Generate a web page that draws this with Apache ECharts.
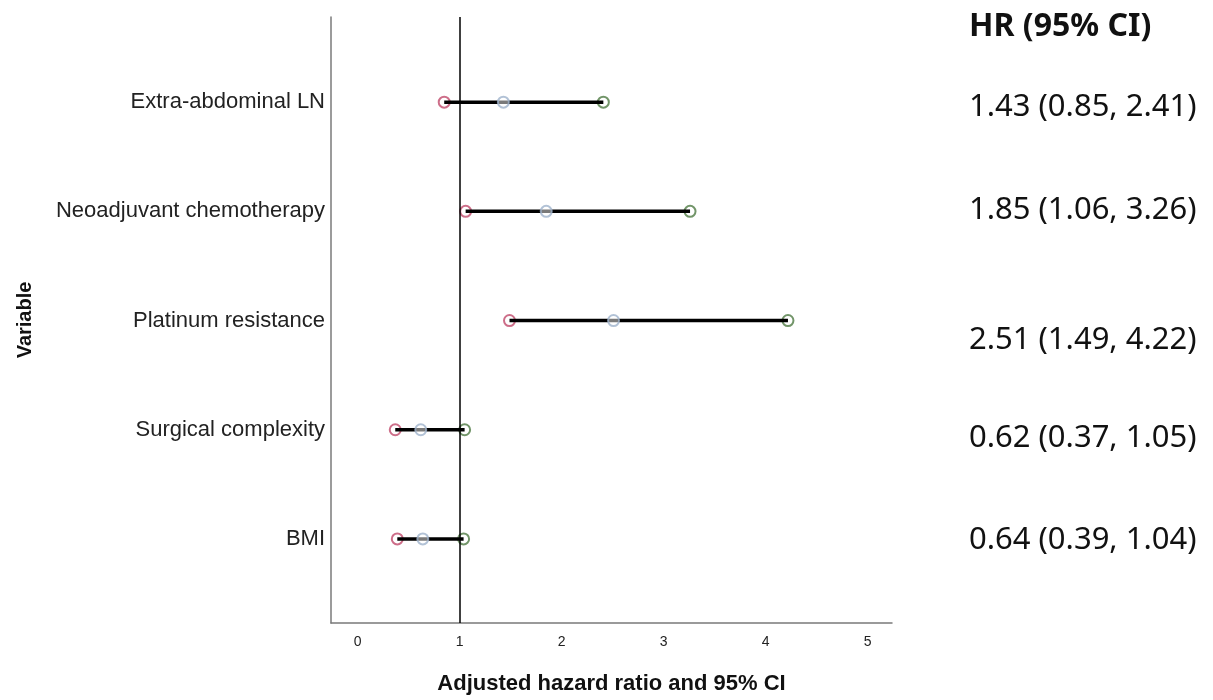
<!DOCTYPE html>
<html>
<head>
<meta charset="utf-8">
<script src="https://cdn.jsdelivr.net/npm/echarts@6/dist/echarts.min.js"></script>
<style>
html,body{margin:0;padding:0;background:#fff;}
#chart{width:1213px;height:700px;}
</style>
</head>
<body>
<div id="chart"></div>
<script>
// Data (top to bottom as displayed)
var categories = ['Extra-abdominal LN', 'Neoadjuvant chemotherapy', 'Platinum resistance', 'Surgical complexity', 'BMI'];
var hrValues = [1.43, 1.85, 2.51, 0.62, 0.64];
var lowerValues = [0.85, 1.06, 1.49, 0.37, 0.39];
var upperValues = [2.41, 3.26, 4.22, 1.05, 1.04];
var xTicks = [0, 1, 2, 3, 4, 5];
var refValue = 1;
var hrHeader = 'HR (95% CI)';
var xName = 'Adjusted hazard ratio and 95% CI';
var yName = 'Variable';

var n = categories.length;
function rowY(i) { return n - 1 - i; }
var yTicks = categories.map(function (c, i) { return rowY(i); });

var lowerData = lowerValues.map(function (v, i) { return [v, rowY(i)]; });
var hrData = hrValues.map(function (v, i) { return [v, rowY(i)]; });
var upperData = upperValues.map(function (v, i) { return [v, rowY(i)]; });
var ciData = lowerValues.map(function (v, i) { return [v, upperValues[i], rowY(i)]; });

var hrTexts = hrValues.map(function (v, i) {
  return v.toFixed(2) + ' (' + lowerValues[i].toFixed(2) + ', ' + upperValues[i].toFixed(2) + ')';
});
var textCenters = [113, 216, 346, 444, 546];

var chart = echarts.init(document.getElementById('chart'), null, { renderer: 'canvas' });

var graphics = [{
  type: 'text', left: 969, top: 11,
  style: { text: hrHeader, font: 'bold 32px "Noto Sans"', fill: '#111' }
}];
hrTexts.forEach(function (t, i) {
  graphics.push({
    type: 'text', left: 969, top: textCenters[i] - 21,
    style: { text: t, font: '31px "Noto Sans"', fill: '#111' }
  });
});

var option = {
  backgroundColor: '#fff',
  animation: false,
  grid: { left: 331, right: 321, top: 17, bottom: 73, containLabel: false },
  xAxis: {
    type: 'value', min: -0.26, max: 5.24,
    name: xName, nameLocation: 'middle', nameGap: 50,
    nameTextStyle: { fontFamily: 'Liberation Sans', fontWeight: 'bold', fontSize: 22, color: '#111' },
    axisLine: { show: true, onZero: false, lineStyle: { color: '#7a7a7a', width: 1.5 } },
    axisTick: { show: false },
    splitLine: { show: false },
    axisLabel: { customValues: xTicks, margin: 12, fontFamily: 'Liberation Sans', fontSize: 14, color: '#222' }
  },
  yAxis: {
    type: 'value', min: -0.77, max: 4.78,
    name: yName, nameLocation: 'middle', nameGap: 296, nameRotate: 90,
    nameTextStyle: { fontFamily: 'Liberation Sans', fontWeight: 'bold', fontSize: 20, color: '#111' },
    axisLine: { show: true, onZero: false, lineStyle: { color: '#7a7a7a', width: 1.5 } },
    axisTick: { show: false },
    splitLine: { show: false },
    axisLabel: {
      customValues: yTicks, margin: 6,
      fontFamily: 'Liberation Sans', fontSize: 22, color: '#222',
      formatter: function (v) { return categories[n - 1 - Math.round(v)]; }
    }
  },
  graphic: graphics,
  series: [
    {
      name: 'Lower', type: 'scatter', data: lowerData, symbol: 'circle', symbolSize: 11, z: 2,
      itemStyle: { color: '#fff', borderColor: '#c04a6c', borderWidth: 2 },
      markLine: {
        silent: true, symbol: 'none', label: { show: false },
        lineStyle: { color: '#000', width: 1.5, type: 'solid' },
        data: [{ xAxis: refValue }]
      }
    },
    {
      name: 'Upper', type: 'scatter', data: upperData, symbol: 'circle', symbolSize: 11, z: 2,
      itemStyle: { color: '#fff', borderColor: '#4f7a44', borderWidth: 2 }
    },
    {
      name: 'CI', type: 'custom', z: 3,
      renderItem: function (params, api) {
        var p1 = api.coord([api.value(0), api.value(2)]);
        var p2 = api.coord([api.value(1), api.value(2)]);
        return {
          type: 'line',
          shape: { x1: p1[0], y1: p1[1], x2: p2[0], y2: p2[1] },
          style: { stroke: '#000', lineWidth: 3.5 }
        };
      },
      encode: { x: [0, 1], y: 2 },
      data: ciData
    },
    {
      name: 'HR', type: 'scatter', data: hrData, symbol: 'circle', symbolSize: 11, z: 4,
      itemStyle: { color: 'rgba(255,255,255,0.6)', borderColor: '#9fb3cc', borderWidth: 2 }
    }
  ]
};
chart.setOption(option);
</script>
</body>
</html>
